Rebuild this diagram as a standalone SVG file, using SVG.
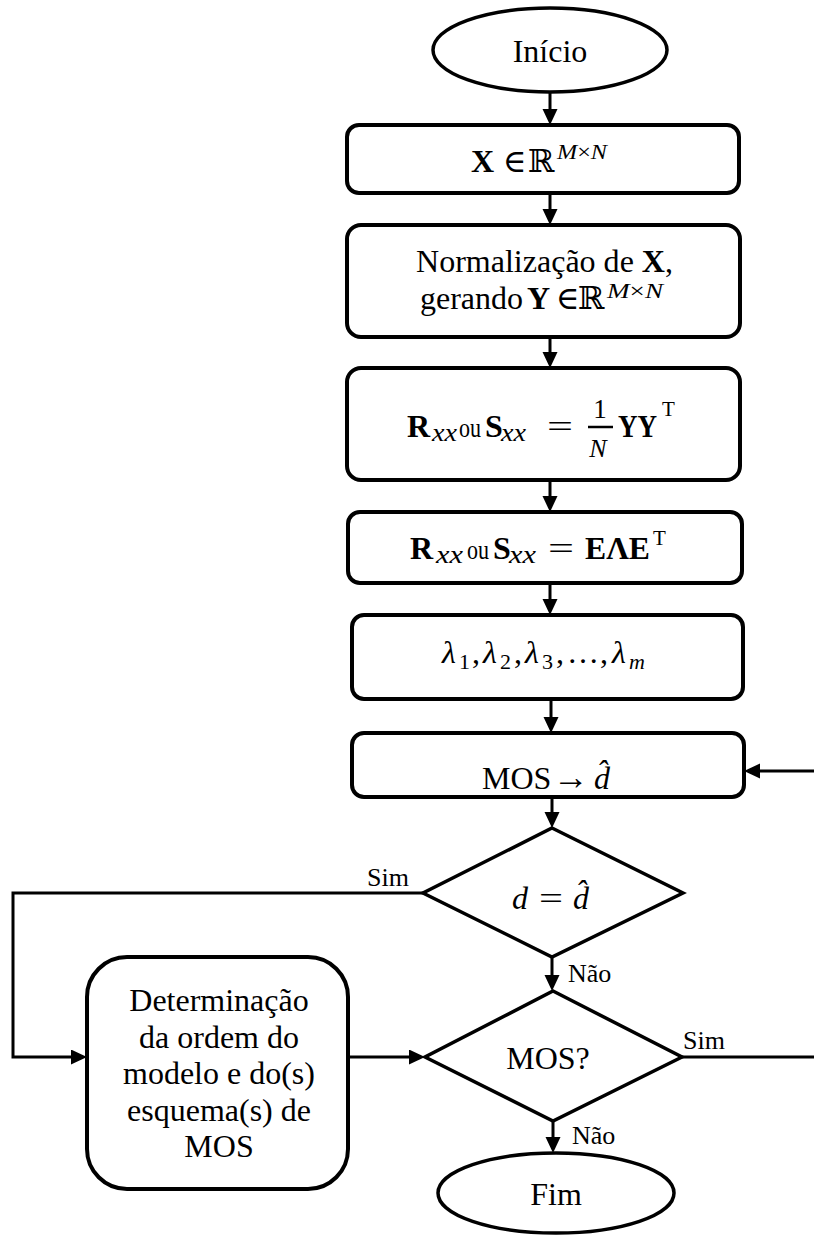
<svg xmlns="http://www.w3.org/2000/svg" width="814" height="1236" viewBox="0 0 814 1236">
  <style>
    text { font-family: "Liberation Serif", "DejaVu Serif", serif; fill: #000; }
    .t { font-size: 32px; }
    .c { text-anchor: middle; }
    .lbl { font-size: 26px; }
    .b { font-weight: bold; }
    .i { font-style: italic; }
    .sub { font-size: 26px; font-style: italic; }
    .sup { font-size: 21px; }
    .ou { font-size: 28px; }
    .box { fill: #fff; stroke: #000; stroke-width: 4; }
    .shape { fill: #fff; stroke: #000; stroke-width: 3.5; }
    .conn { fill: none; stroke: #000; stroke-width: 3; }
    .bar { stroke: #000; stroke-width: 2.5; }
  </style>
  <defs>
    <marker id="arrow" markerUnits="userSpaceOnUse" markerWidth="16" markerHeight="16" refX="12" refY="7.5" orient="auto">
      <path d="M0,0 L16,7.5 L0,15 z" fill="#000"/>
    </marker>
  </defs>

  <!-- connectors -->
  <g id="connectors">
    <line class="conn" x1="550" y1="92" x2="550" y2="121" marker-end="url(#arrow)"/>
    <line class="conn" x1="550" y1="193" x2="550" y2="221" marker-end="url(#arrow)"/>
    <line class="conn" x1="550" y1="337" x2="550" y2="364" marker-end="url(#arrow)"/>
    <line class="conn" x1="550" y1="480" x2="550" y2="508" marker-end="url(#arrow)"/>
    <line class="conn" x1="550" y1="583" x2="550" y2="611" marker-end="url(#arrow)"/>
    <line class="conn" x1="551" y1="699" x2="551" y2="729" marker-end="url(#arrow)"/>
    <line class="conn" x1="814" y1="771" x2="748" y2="771" marker-end="url(#arrow)"/>
    <line class="conn" x1="552" y1="797" x2="552" y2="824" marker-end="url(#arrow)"/>
    <polyline class="conn" points="423,893 13,893 13,1057 83,1057" marker-end="url(#arrow)"/>
    <line class="conn" x1="552" y1="957" x2="552" y2="987" marker-end="url(#arrow)"/>
    <line class="conn" x1="348" y1="1057" x2="421" y2="1057" marker-end="url(#arrow)"/>
    <line class="conn" x1="682" y1="1057" x2="814" y2="1057"/>
    <line class="conn" x1="553" y1="1121" x2="553" y2="1149" marker-end="url(#arrow)"/>
    <text class="lbl" x="367" y="886">Sim</text>
    <text class="lbl" x="568" y="982">Não</text>
    <text class="lbl" x="683" y="1049">Sim</text>
    <text class="lbl" x="572" y="1144">Não</text>
  </g>

  <!-- start -->
  <g id="inicio">
    <ellipse class="shape" cx="550" cy="50" rx="117" ry="42"/>
    <text class="t c" x="550" y="62">Início</text>
  </g>

  <!-- input matrix -->
  <g id="entrada">
    <rect class="box" x="347" y="125" width="392" height="68" rx="12"/>
    <text class="t" y="172"><tspan class="b" x="471">X</tspan><tspan x="503">∈</tspan><tspan x="528">ℝ</tspan></text>
    <text class="sup" x="557" y="159" textLength="50" lengthAdjust="spacingAndGlyphs"><tspan class="i">M</tspan>×<tspan class="i">N</tspan></text>
  </g>

  <!-- normalisation -->
  <g id="normalizacao">
    <rect class="box" x="347" y="225" width="393" height="112" rx="14"/>
    <text class="t" x="416" y="272" textLength="257" lengthAdjust="spacingAndGlyphs">Normalização de <tspan class="b">X</tspan>,</text>
    <text class="t" y="309"><tspan x="420">gerando</tspan><tspan class="b" x="527">Y</tspan><tspan x="556">∈</tspan><tspan x="578">ℝ</tspan></text>
    <text class="sup" x="607" y="298" textLength="56" lengthAdjust="spacingAndGlyphs"><tspan class="i">M</tspan>×<tspan class="i">N</tspan></text>
  </g>

  <!-- correlation / covariance matrix -->
  <g id="correlacao">
    <rect class="box" x="347" y="368" width="393" height="112" rx="14"/>
    <text class="t b" x="407" y="437">R</text>
    <text class="sub" x="432" y="441" textLength="25" lengthAdjust="spacingAndGlyphs">xx</text>
    <text class="ou" x="459" y="437" textLength="22" lengthAdjust="spacingAndGlyphs">ou</text>
    <text class="t b" x="485" y="437">S</text>
    <text class="sub" x="501" y="441" textLength="25" lengthAdjust="spacingAndGlyphs">xx</text>
    <text class="t" x="547" y="437" textLength="26" lengthAdjust="spacingAndGlyphs">=</text>
    <text class="c" x="600" y="418" font-size="27">1</text>
    <line class="bar" x1="588" y1="427" x2="613" y2="427"/>
    <text class="c i" x="598" y="457" font-size="26">N</text>
    <text class="t b" x="618" y="437" textLength="39" lengthAdjust="spacingAndGlyphs">YY</text>
    <text class="sup" x="662" y="416">T</text>
  </g>

  <!-- eigendecomposition -->
  <g id="decomposicao">
    <rect class="box" x="348" y="512" width="394" height="71" rx="12"/>
    <text class="t b" x="410" y="559">R</text>
    <text class="sub" x="436" y="563" textLength="27" lengthAdjust="spacingAndGlyphs">xx</text>
    <text class="ou" x="467" y="559" textLength="22" lengthAdjust="spacingAndGlyphs">ou</text>
    <text class="t b" x="493" y="559">S</text>
    <text class="sub" x="509" y="563" textLength="27" lengthAdjust="spacingAndGlyphs">xx</text>
    <text class="t" x="548" y="559" textLength="26" lengthAdjust="spacingAndGlyphs">=</text>
    <text class="t b" x="585" y="559" textLength="65" lengthAdjust="spacingAndGlyphs">EΛE</text>
    <text class="sup" x="653" y="545">T</text>
  </g>

  <!-- eigenvalues -->
  <g id="autovalores">
    <rect class="box" x="352" y="615" width="391" height="84" rx="12"/>
    <text class="t i" y="663"><tspan x="442">λ</tspan><tspan x="483">λ</tspan><tspan x="525">λ</tspan><tspan x="612">λ</tspan></text>
    <text y="669" font-size="22"><tspan x="459">1</tspan><tspan x="500">2</tspan><tspan x="542">3</tspan></text>
    <text class="i" x="629" y="669" font-size="22">m</text>
    <text class="t" y="663"><tspan x="472">,</tspan><tspan x="514">,</tspan><tspan x="556">,</tspan><tspan x="567">…</tspan><tspan x="600">,</tspan></text>
  </g>

  <!-- order estimation -->
  <g id="mos">
    <rect class="box" x="352" y="733" width="392" height="64" rx="12"/>
    <text class="t" x="482" y="789">MOS</text>
    <text x="553" y="789" font-size="36">→</text>
    <text class="t i" x="594" y="789">d̂</text>
  </g>

  <!-- decision: estimate equals true order -->
  <g id="decisao-d">
    <polygon class="shape" points="552,828 683,893 552,957 423,893"/>
    <text class="t i" x="512" y="909">d</text>
    <text class="t" x="539" y="909" textLength="24" lengthAdjust="spacingAndGlyphs">=</text>
    <text class="t i" x="573" y="909">d̂</text>
  </g>

  <!-- result box -->
  <g id="determinacao">
    <rect class="box" x="87" y="957" width="261" height="232" rx="40"/>
    <text class="t c" x="219" y="1011">Determinação</text>
    <text class="t c" x="219" y="1048">da ordem do</text>
    <text class="t c" x="219" y="1084">modelo e do(s)</text>
    <text class="t c" x="219" y="1121">esquema(s) de</text>
    <text class="t c" x="219" y="1157">MOS</text>
  </g>

  <!-- decision: more MOS -->
  <g id="decisao-mos">
    <polygon class="shape" points="553,991 682,1057 553,1121 425,1057"/>
    <text class="t c" x="548" y="1069">MOS?</text>
  </g>

  <!-- end -->
  <g id="fim">
    <ellipse class="shape" cx="556" cy="1193" rx="118" ry="40"/>
    <text class="t c" x="556" y="1205">Fim</text>
  </g>
</svg>
